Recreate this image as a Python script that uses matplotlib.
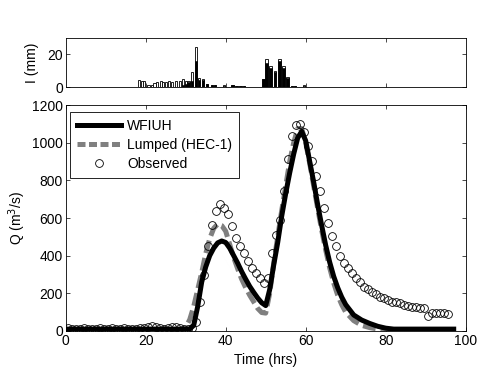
import matplotlib
matplotlib.use('Agg')

from matplotlib import pyplot as plt
from matplotlib.lines import Line2D
import numpy as np

plt.rcParams['font.family'] = ['Liberation Sans', 'DejaVu Sans']
plt.rcParams['font.size'] = 10

############# data #############
# rainfall hyetograph: total (open bars) and excess (black bars), mm
rain_t = [18.4, 19.0, 19.6, 20.7, 21.5, 22.2, 22.9, 23.8, 24.4, 25.1,
          25.9, 26.6, 27.6, 28.6, 29.4, 30.1, 30.7, 31.5, 32.5, 33.4,
          34.4, 35.4, 36.5, 37.3, 39.6, 41.7, 42.7, 43.7, 44.6, 49.4,
          50.2, 51.2, 52.3, 53.4, 54.4, 55.4, 56.5, 57.3, 59.6]
rain_total = [4.2, 3.5, 4.0, 1.5, 1.5, 2.5, 3.0, 3.5, 3.0, 3.0,
              3.7, 3.0, 3.5, 4.0, 5.0, 4.0, 3.5, 9.0, 24.4, 5.5,
              5.0, 2.0, 1.5, 1.5, 1.2, 1.5, 1.0, 1.0, 1.0, 5.0,
              17.0, 13.0, 10.0, 17.0, 13.0, 6.0, 1.0, 1.0, 1.2]
rain_excess = [0, 0, 0, 0, 0, 0, 0, 0, 0, 0,
               0, 0, 0, 0.3, 1.5, 2.0, 3.0, 4.0, 16.0, 4.5,
               4.5, 2.0, 1.5, 1.5, 1.0, 1.5, 1.0, 1.0, 1.0, 5.0,
               15.0, 12.0, 9.0, 16.0, 12.0, 5.5, 1.0, 1.0, 1.0]

# WFIUH model hydrograph
wfiuh_t = [0, 31, 32, 33, 34, 35, 36, 37, 38, 39, 40, 41, 42, 43, 44, 45,
           46, 47, 48, 49, 50, 51, 52, 53, 54, 55, 56, 57, 58, 59, 60, 61,
           62, 63, 64, 65, 66, 67, 68, 69, 70, 72, 74, 76, 78, 80, 82, 97]
wfiuh_q = [10, 10, 30, 130, 260, 340, 400, 440, 468, 478, 470, 440, 400, 360, 315, 275,
           237, 205, 175, 150, 135, 220, 350, 470, 610, 730, 840, 940, 1025, 1060, 1010, 900,
           790, 670, 560, 455, 365, 290, 230, 180, 140, 85, 58, 40, 25, 15, 10, 10]

# Lumped (HEC-1) model hydrograph
hec_t = [0, 29, 30, 31, 32, 33, 34, 35, 36, 37, 38, 39, 40, 41, 42, 43,
         44, 45, 46, 47, 48, 49, 50, 51, 52, 53, 54, 55, 56, 57, 58, 59,
         60, 61, 62, 63, 64, 65, 66, 67, 68, 69, 70, 72, 74, 76, 78, 80, 97]
hec_q = [5, 5, 20, 60, 130, 220, 310, 410, 490, 545, 568, 560, 530, 460, 390, 330,
         275, 230, 190, 155, 120, 98, 95, 200, 360, 500, 640, 770, 900, 1000, 1075, 1075,
         1000, 890, 770, 650, 535, 430, 335, 255, 190, 140, 100, 55, 30, 18, 10, 5, 5]

# observed discharge, hourly
obs_t = np.arange(0.5, 96.0, 1.0)
obs_q = [15, 12, 10, 12, 14, 10, 8, 12, 15, 10, 12, 14, 10, 12, 15, 12,
         10, 12, 14, 18, 22, 25, 20, 15, 12, 18, 22, 20, 15, 12, 8, 15,
         50, 156, 299, 450, 565, 636, 672, 654, 619, 556, 494, 450, 414, 370,
         334, 308, 281, 254, 281, 414, 512, 592, 743, 912, 1036, 1093, 1099, 1058,
         983, 903, 823, 743, 654, 574, 503, 450, 396, 361, 334, 308, 281, 258,
         236, 222, 209, 195, 183, 174, 165, 156, 156, 148, 138, 133, 130, 126,
         121, 121, 77, 94, 94, 94, 94, 89]

x_ticks = [0, 20, 40, 60, 80, 100]
q_ticks = [0, 200, 400, 600, 800, 1000, 1200]
i_ticks = [0, 20]


def styleAxes(ax):
    ax.tick_params(direction='in', length=3, width=0.5, top=True, right=True, pad=2)
    for s in ax.spines.values():
        s.set_linewidth(0.6)


def drawGraph():
    fig = plt.figure(figsize=(5.0, 3.76), dpi=100)

    #rain on top
    axr = fig.add_axes([0.1314, 0.768, 0.80, 0.131])
    axr.bar(rain_t, rain_total, width=0.6, color='white', edgecolor='black', linewidth=0.6)
    axr.bar(rain_t, rain_excess, width=0.6, color='black', edgecolor='black', linewidth=0.4)
    axr.set_xlim(0, 100)
    axr.set_ylim(0, 30)
    axr.set_xticks(x_ticks[1:-1])
    axr.set_xticklabels([])
    axr.set_yticks(i_ticks)
    axr.set_ylabel('I (mm)', labelpad=6)
    styleAxes(axr)

    #discharge
    ax = fig.add_axes([0.1314, 0.1197, 0.80, 0.601])
    ax.plot(hec_t, hec_q, color='#808080', linewidth=3.6, dashes=(2.6, 1.0), zorder=2)
    ax.plot(wfiuh_t, wfiuh_q, color='black', linewidth=3.6, zorder=3)
    ax.plot(obs_t, obs_q, linestyle='none', marker='o', markersize=5.6,
            markerfacecolor='none', markeredgecolor='black', markeredgewidth=0.6, zorder=4)
    ax.set_xlim(0, 100)
    ax.set_ylim(0, 1200)
    ax.set_xticks(x_ticks)
    ax.set_yticks(q_ticks)
    ax.set_xlabel('Time (hrs)', labelpad=4)
    ax.set_ylabel('Q (m$^3$/s)', labelpad=3)
    styleAxes(ax)

    handles = [Line2D([], [], color='black', linewidth=3.6),
               Line2D([], [], color='#808080', linewidth=3.6, dashes=(1.6, 0.7)),
               Line2D([], [], linestyle='none', marker='o', markersize=5.6,
                      markerfacecolor='none', markeredgecolor='black', markeredgewidth=0.6)]
    leg = ax.legend(handles, ['WFIUH', 'Lumped (HEC-1)', 'Observed'],
                    loc='upper left', bbox_to_anchor=(0.011, 0.969), fancybox=False,
                    framealpha=1, edgecolor='black', handlelength=3.2, handletextpad=0.4,
                    borderpad=0.5, labelspacing=0.35, borderaxespad=0)
    leg.get_frame().set_linewidth(0.6)

    fig.savefig('out.png', dpi=100)


def main():
    drawGraph()


if __name__ == "__main__":
    main()
